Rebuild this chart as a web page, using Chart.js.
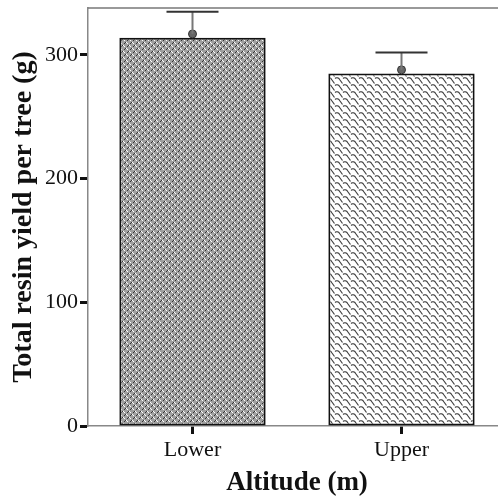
<!DOCTYPE html>
<html>
<head>
<meta charset="utf-8">
<script src="https://cdn.jsdelivr.net/npm/chart.js@4"></script>
<style>
  html, body { margin: 0; padding: 0; background: #fff; overflow: hidden; }
  #wrap { position: relative; width: 520px; height: 501px; }
</style>
</head>
<body>
<div id="wrap"><canvas id="c"></canvas></div>
<script>
// Resin yield by altitude class: bar = yield, marker = mean, whisker = upper error
const categories = ['Lower', 'Upper'];
const yieldValues = [314, 285];
const meanValues = [317, 288];
const errorUpper = [335, 302];
const yTicks = [0, 100, 200, 300];

// Fill textures for the two bars
function checkerPattern() {
  const t = document.createElement('canvas');
  t.width = 6; t.height = 6;
  const g = t.getContext('2d');
  g.fillStyle = '#a0a0a0'; g.fillRect(0, 0, 6, 6);
  g.fillStyle = '#ffffff';
  g.fillRect(0, 0, 1, 1); g.fillRect(3, 3, 1, 1); g.fillRect(1, 1, 1, 1); g.fillRect(4, 4, 1, 1);
  g.fillStyle = '#333333';
  g.fillRect(4, 1, 1, 1); g.fillRect(1, 4, 1, 1); g.fillRect(5, 0, 1, 1); g.fillRect(2, 3, 1, 1);
  return g.createPattern(t, 'repeat');
}
function scalePattern() {
  const t = document.createElement('canvas');
  t.width = 8; t.height = 7;
  const g = t.getContext('2d');
  g.fillStyle = '#ffffff'; g.fillRect(0, 0, 8, 7);
  g.strokeStyle = '#444';
  g.lineWidth = 1.2;
  g.beginPath();
  g.moveTo(-1, 1.5);
  g.quadraticCurveTo(2, -0.5, 4, 3);
  g.lineTo(6.5, 6.5);
  g.moveTo(7, 1.5);
  g.quadraticCurveTo(10, -0.5, 12, 3);
  g.moveTo(-4, 3); g.lineTo(-1.5, 6.5);
  g.stroke();
  g.beginPath();
  g.moveTo(-1, 8.5);
  g.quadraticCurveTo(2, 6.5, 4, 10);
  g.moveTo(7, 8.5);
  g.quadraticCurveTo(10, 6.5, 12, 10);
  g.stroke();
  return g.createPattern(t, 'repeat');
}

const serif = '"Liberation Serif", "Times New Roman", serif';

// Whiskers from the mean marker up to the upper error value, plus the top frame line
const errorBars = {
  id: 'errorBars',
  afterDatasetsDraw(chart) {
    const ctx = chart.ctx;
    const x = chart.scales.x, y = chart.scales.y;
    const area = chart.chartArea;
    ctx.save();
    ctx.strokeStyle = '#777';
    ctx.lineWidth = 1.5;
    ctx.beginPath();
    ctx.moveTo(area.left, area.top);
    ctx.lineTo(area.right, area.top);
    ctx.stroke();
    categories.forEach((c, i) => {
      const px = x.getPixelForValue(i);
      const yTop = y.getPixelForValue(errorUpper[i]);
      const yMid = y.getPixelForValue(meanValues[i]);
      ctx.strokeStyle = '#777';
      ctx.lineWidth = 2;
      ctx.beginPath();
      ctx.moveTo(px, yMid);
      ctx.lineTo(px, yTop);
      ctx.stroke();
      ctx.strokeStyle = '#333';
      ctx.lineWidth = 2;
      ctx.beginPath();
      ctx.moveTo(px - 26, yTop);
      ctx.lineTo(px + 26, yTop);
      ctx.stroke();
    });
    ctx.restore();
  }
};

new Chart(document.getElementById('c'), {
  data: {
    labels: categories,
    datasets: [
      {
        type: 'line',
        data: meanValues,
        showLine: false,
        pointStyle: 'circle',
        pointRadius: 4,
        pointBackgroundColor: '#666',
        pointBorderColor: '#333',
        pointBorderWidth: 1,
        order: 0
      },
      {
        type: 'bar',
        data: yieldValues,
        backgroundColor: [checkerPattern(), scalePattern()],
        borderColor: '#111',
        borderWidth: 2,
        borderSkipped: false,
        categoryPercentage: 1,
        barPercentage: 0.7,
        order: 1
      }
    ]
  },
  options: {
    responsive: true,
    maintainAspectRatio: false,
    animation: false,
    layout: { padding: { top: 8, right: 14, left: 0, bottom: 0 } },
    plugins: { legend: { display: false }, tooltip: { enabled: false } },
    scales: {
      x: {
        offset: true,
        grid: { display: true, offset: false, drawOnChartArea: false, tickLength: 8, tickColor: '#111', tickWidth: 3 },
        border: { display: true, color: '#888', width: 1.5 },
        ticks: { color: '#111', font: { family: serif, size: 22 }, padding: 3 },
        title: { display: true, text: 'Altitude (m)', color: '#111', font: { family: serif, size: 27, weight: 'bold' }, padding: { top: 0, bottom: 2 } },
        afterFit(s) { s.height = 75; s.paddingLeft = 0; s.paddingRight = 0; }
      },
      y: {
        min: 0,
        max: 338,
        afterBuildTicks(s) { s.ticks = yTicks.map(v => ({ value: v })); },
        grid: { display: true, drawOnChartArea: false, tickLength: 8, tickColor: '#111', tickWidth: 3 },
        border: { display: true, color: '#888', width: 1.5 },
        ticks: { color: '#111', font: { family: serif, size: 22 }, padding: 2 },
        title: { display: true, text: 'Total resin yield per tree (g)', color: '#111', font: { family: serif, size: 28, weight: 'bold' }, padding: { top: 7, bottom: 0 } },
        afterFit(s) { s.width = 88; s.paddingTop = 0; s.paddingBottom = 0; }
      }
    }
  },
  plugins: [errorBars]
});
</script>
</body>
</html>
